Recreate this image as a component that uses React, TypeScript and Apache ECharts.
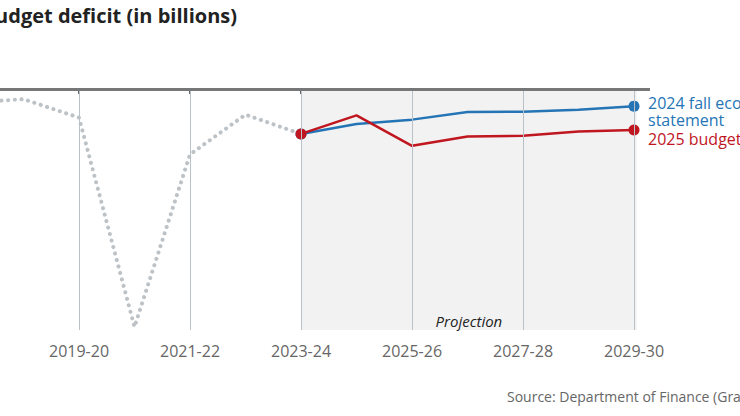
import React, { useEffect, useRef } from "react";
import * as echarts from "echarts";

const histYears = [2017, 2018, 2019, 2020, 2021, 2022, 2023];
const histValues = [-19.0, -14.0, -39.4, -327.7, -90.2, -35.3, -61.9];
const projYears = [2023, 2024, 2025, 2026, 2027, 2028, 2029];
const fesValues = [-61.9, -48.3, -42.2, -31.7, -31.2, -28.5, -23.6];
const budgetValues = [-61.9, -36.3, -78.3, -65.4, -64.5, -58.5, -56.6];
const tickYears = [2019, 2021, 2023, 2025, 2027, 2029];
const projectionRange = [2023, 2029.05];

const fesLabel = "2024 fall economic\nstatement";
const budgetLabel = "2025 budget";
const titleText = "Budget deficit (in billions)";
const sourceText = "Source: Department of Finance (Graphic)";

const BLUE = "#2575b6";
const RED = "#c0161f";
const FONT = "'Open Sans', 'Noto Sans', sans-serif";

const fmtYear = (v: number) => `${v}-${String((v + 1) % 100).padStart(2, "0")}`;

export default function App() {
  const ref = useRef<HTMLDivElement>(null);
  useEffect(() => {
    const chart = echarts.init(ref.current!, null, { renderer: "svg" });
    const endSymbol = (n: number) => (_v: any, p: any) =>
      p.dataIndex === 0 || p.dataIndex === n - 1 ? 11 : 0;
    chart.setOption({
      animation: false,
      textStyle: { fontFamily: FONT },
      grid: { left: 0, right: 90, top: 89, bottom: 86, containLabel: false },
      xAxis: {
        type: "value",
        min: 2019 - 79 / 55.5,
        max: 2019 + 571 / 55.5,
        axisLine: { show: false },
        splitLine: { show: false },
        axisTick: {
          show: true,
          customValues: tickYears,
          length: 5,
          lineStyle: { color: "#333", width: 1.5 },
        },
        axisLabel: {
          show: true,
          customValues: tickYears,
          formatter: (v: number) => fmtYear(Math.round(v)),
          color: "#666",
          fontSize: 16,
          margin: 13,
          fontFamily: FONT,
        },
      },
      yAxis: { type: "value", min: -332, max: 0, show: false },
      graphic: [
        {
          type: "text",
          right: 740 - 237,
          top: 5,
          style: { text: titleText, fontSize: 20, fontWeight: "bold", fill: "#222", fontFamily: FONT },
        },
        {
          type: "text",
          left: 507,
          top: 389,
          style: { text: sourceText, fontSize: 14, fill: "#666", fontFamily: FONT },
        },
      ],
      series: [
        {
          type: "line",
          data: histYears.map((y, i) => [y, histValues[i]]),
          symbol: "none",
          lineStyle: { color: "#bcc2c6", width: 4, type: [0.1, 6.6], cap: "round" },
          z: 2,
          markArea: {
            silent: true,
            itemStyle: { color: "#f2f2f2" },
            label: {
              show: true,
              position: "insideBottom",
              distance: 2,
              formatter: "Projection",
              fontStyle: "italic",
              fontSize: 15,
              color: "#222",
              fontFamily: FONT,
            },
            data: [[{ xAxis: projectionRange[0] }, { xAxis: projectionRange[1] }]],
          },
          markLine: {
            silent: true,
            symbol: "none",
            label: { show: false },
            data: [
              ...tickYears.map((y) => ({
                xAxis: y,
                lineStyle: { color: "#b9c1c9", width: 1, type: "solid" },
              })),
              { yAxis: 0, lineStyle: { color: "#777", width: 3, type: "solid" } },
            ],
          },
        },
        {
          type: "line",
          data: projYears.map((y, i) => [y, fesValues[i]]),
          symbol: "circle",
          symbolSize: endSymbol(projYears.length),
          showAllSymbol: true,
          itemStyle: { color: BLUE },
          lineStyle: { color: BLUE, width: 2.5 },
          z: 3,
          endLabel: {
            show: true,
            formatter: fesLabel,
            color: BLUE,
            fontSize: 16,
            lineHeight: 17,
            distance: 14,
            offset: [0, 5],
            fontFamily: FONT,
          },
        },
        {
          type: "line",
          data: projYears.map((y, i) => [y, budgetValues[i]]),
          symbol: "circle",
          symbolSize: endSymbol(projYears.length),
          showAllSymbol: true,
          itemStyle: { color: RED },
          lineStyle: { color: RED, width: 2.5 },
          z: 4,
          endLabel: {
            show: true,
            formatter: budgetLabel,
            color: RED,
            fontSize: 16,
            lineHeight: 17,
            distance: 14,
            offset: [0, 9],
            fontFamily: FONT,
          },
        },
      ],
    });
    return () => chart.dispose();
  }, []);
  return (
    <div
      ref={ref}
      style={{ position: "fixed", left: 0, top: 0, width: 740, height: 416, background: "#fff" }}
    />
  );
}
